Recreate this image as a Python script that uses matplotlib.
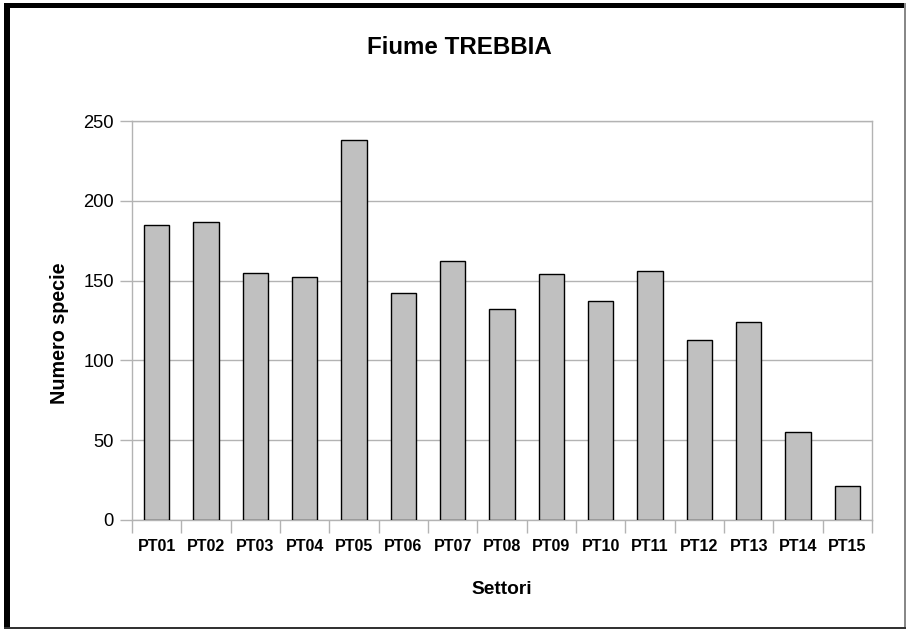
import matplotlib
matplotlib.use("Agg")
import matplotlib.pyplot as plt
from matplotlib.patches import Rectangle
import numpy as np

categories = ["PT01", "PT02", "PT03", "PT04", "PT05", "PT06", "PT07", "PT08",
              "PT09", "PT10", "PT11", "PT12", "PT13", "PT14", "PT15"]
values = [185, 187, 155, 152, 238, 142, 162, 132, 154, 137, 156, 113, 124, 55, 21]
yticks = [0, 50, 100, 150, 200, 250]

plt.rcParams['font.family'] = ['Liberation Sans', 'DejaVu Sans']

W, H = 906, 629
fig = plt.figure(figsize=(W / 100, H / 100), dpi=100)
fig.patch.set_facecolor("white")

def px(x0, y0, x1, y1):
    # pixel box (from top-left) -> figure fraction rect
    return (x0 / W, 1 - y1 / H, (x1 - x0) / W, (y1 - y0) / H)

# outer frame
for (x0, y0, x1, y1, c) in [(4, 3, 905.5, 8.3, "black"),
                            (4, 3, 10, 628.5, "black"),
                            (904.3, 3, 905.6, 628.5, "#888888"),
                            (4, 627, 905.6, 628.5, "#333333")]:
    l, b, w, h = px(x0, y0, x1, y1)
    fig.patches.append(Rectangle((l, b), w, h, transform=fig.transFigure,
                                 facecolor=c, edgecolor="none", zorder=10))

ax = fig.add_axes([132 / W, 1 - 520 / H, (872 - 132) / W, (520 - 121) / H])
x = np.arange(len(categories))
ax.bar(x, values, width=0.51, color="#c0c0c0", edgecolor="black", linewidth=1.0, zorder=3)

ax.set_xlim(-0.5, len(categories) - 0.5)
ax.set_ylim(0, 250)
ax.set_yticks(yticks)
ax.set_yticklabels([str(v) for v in yticks], fontsize=13.2)
ax.set_xticks(x)
ax.set_xticklabels(categories, fontsize=11.6, fontweight="bold")
ax.set_xticks(np.arange(-0.5, len(categories), 1.0), minor=True)
ax.tick_params(axis="x", which="major", length=0, pad=14)
ax.tick_params(axis="x", which="minor", length=9, color="#b3b3b3", width=1)
ax.tick_params(axis="y", which="major", length=9, color="#b3b3b3", width=1, pad=4)

ax.yaxis.grid(True, color="#b3b3b3", linewidth=1, zorder=0)
ax.set_axisbelow(True)
for s in ax.spines.values():
    s.set_color("#b3b3b3")
    s.set_linewidth(1)

ax.set_ylabel("Numero specie", fontsize=14.2, fontweight="bold", labelpad=10, y=0.468)
ax.set_xlabel("Settori", fontsize=13.8, fontweight="bold", labelpad=19)
fig.text(459 / W, 1 - 47 / H, "Fiume TREBBIA", fontsize=17.4, fontweight="bold",
         ha="center", va="center")

fig.savefig("out.png", dpi=100, facecolor="white")
